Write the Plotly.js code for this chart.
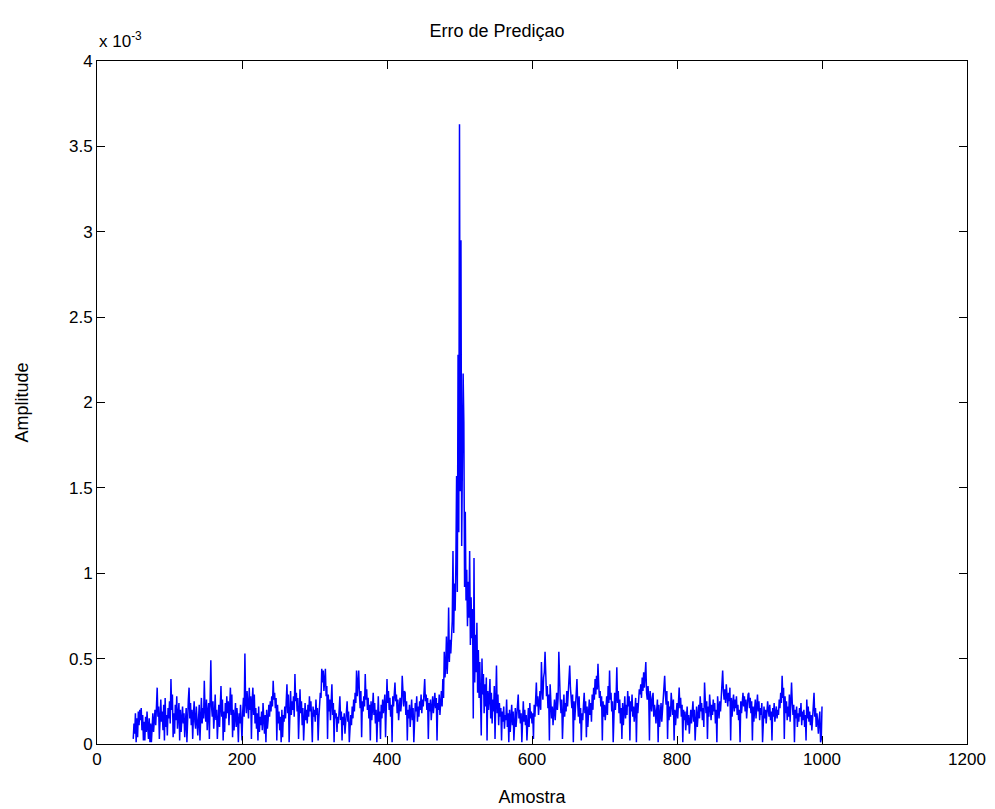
<!DOCTYPE html>
<html>
<head>
<meta charset="utf-8">
<script src="https://cdn.plot.ly/plotly-3.0.1.min.js"></script>
<style>html,body{margin:0;padding:0;background:#fff;}#chart{width:995px;height:809px;}</style>
</head>
<body>
<div id="chart"></div>
<script>
// Prediction error amplitude, in units of 1e-4, one value per sample
const firstSample = 50;
const errorE4 = [
0.3,1.2,0.6,1.8,0.1,1.5,0.4,1.9,1.1,2.0,
1.4,2.1,0.8,1.7,0.2,1.3,0.2,1.6,0.7,1.9,
1.0,0.3,1.5,0.1,1.2,0.1,0.9,1.8,0.7,1.4,
2.0,1.1,2.4,3.3,1.6,2.2,0.3,1.8,2.6,1.3,
1.9,0.8,2.3,0.2,2.7,1.0,1.7,0.5,2.1,1.5,
2.5,1.2,3.8,2.0,2.9,0.4,1.8,0.6,2.3,1.4,
2.8,0.9,1.6,2.4,0.2,2.0,0.7,1.5,2.2,1.2,
1.8,0.4,1.3,2.1,0.1,1.9,2.6,3.3,1.5,2.4,
1.1,2.0,0.3,1.7,2.5,1.3,0.9,2.2,1.6,0.5,
1.4,2.3,0.2,1.8,2.7,1.2,2.1,1.5,3.7,2.0,
1.3,2.6,0.8,1.9,2.4,0.3,2.8,4.9,2.2,1.6,
2.5,0.9,1.7,2.9,1.4,2.0,0.3,1.5,2.3,1.0,
2.1,3.4,1.6,2.6,0.2,1.9,0.7,2.4,1.5,2.8,
1.8,2.5,1.1,2.2,3.3,1.7,2.9,0.4,2.0,0.8,
1.6,2.4,1.0,2.1,1.4,0.1,1.8,1.2,2.3,1.5,
0.2,1.9,2.7,1.6,5.3,2.4,1.8,3.1,2.2,1.5,
3.3,2.0,2.8,0.3,2.5,3.3,1.7,2.9,1.2,2.1,
0.9,1.8,0.2,2.2,0.7,1.6,1.1,1.9,0.8,2.4,
1.5,0.6,1.7,0.1,2.0,0.9,1.4,2.3,1.6,2.5,
1.9,2.8,2.2,3.7,2.6,3.0,2.1,2.7,0.2,2.3,
1.2,1.9,0.8,1.6,0.1,2.0,0.4,1.7,1.3,2.2,
1.5,2.6,3.5,1.8,2.9,0.1,2.4,3.1,1.7,2.5,
2.0,2.8,1.6,4.1,2.5,3.0,1.9,2.7,0.3,2.2,
3.2,1.8,2.5,1.1,2.1,0.2,1.7,2.4,1.4,2.0,
1.2,2.3,1.6,2.8,1.9,2.5,1.5,0.1,2.2,1.6,
2.0,1.3,2.6,1.7,2.1,0.2,1.5,2.4,3.0,2.7,
4.4,3.6,4.3,3.1,3.9,4.4,2.8,3.4,0.3,2.9,
1.9,2.6,1.4,2.2,3.5,1.7,2.4,0.1,2.0,1.5,
1.8,0.7,1.6,1.2,2.1,2.8,1.4,1.9,0.2,1.6,
1.1,1.8,0.6,1.5,2.0,2.5,1.3,1.9,0.1,1.4,
1.7,1.1,2.2,1.5,2.6,1.9,3.0,2.4,4.3,2.8,
3.4,4.3,2.9,2.1,3.1,0.4,2.5,1.9,2.8,2.2,
4.1,2.6,3.2,2.0,2.7,1.5,2.3,0.2,2.5,1.4,
2.1,3.0,1.7,2.4,1.2,2.0,0.1,1.6,2.8,1.3,
1.9,0.3,2.3,1.5,2.6,1.8,2.2,2.9,0.4,2.5,
3.8,2.4,3.1,2.0,2.7,1.6,2.3,0.1,2.8,2.2,
3.0,3.6,2.5,2.9,1.8,2.6,1.4,2.1,2.7,1.9,
2.4,4.0,2.8,2.2,3.1,3.0,1.7,2.5,0.2,2.0,
1.5,2.3,1.0,1.8,2.6,1.4,2.1,0.1,1.7,2.4,
1.9,2.8,1.3,2.2,1.6,2.5,2.0,2.9,1.8,2.6,
2.2,3.0,3.8,2.5,2.9,2.0,2.7,0.3,2.4,1.9,
2.6,1.4,2.3,2.8,1.8,2.5,3.0,2.1,2.7,0.2,
2.4,2.0,2.9,1.7,2.6,3.1,2.2,3.8,2.7,5.4,
3.9,4.6,6.3,4.1,5.2,8.0,4.8,6.1,5.3,6.8,
7.2,11.3,6.5,9.4,7.8,10.6,15.7,8.9,22.8,12.4,
36.3,14.8,29.5,11.6,19.3,21.7,18.8,9.2,13.6,8.4,
10.2,6.9,9.5,7.4,11.3,5.8,8.6,6.2,7.9,1.5,
10.9,3.6,6.4,4.2,7.1,3.0,5.5,2.7,4.8,3.3,
0.5,5.0,2.9,4.1,1.8,3.5,2.2,3.9,0.2,3.1,
2.0,2.7,3.8,1.5,3.0,1.2,2.6,1.9,3.4,0.3,
2.3,4.6,1.8,2.9,1.1,2.4,1.6,2.1,0.2,1.9,
1.3,2.2,0.9,1.7,1.4,2.6,1.0,1.8,0.1,2.0,
0.7,1.5,2.3,1.1,1.9,0.2,1.4,2.1,1.0,1.6,
2.2,2.9,1.5,2.0,1.2,1.8,0.1,1.6,2.5,1.3,
2.0,1.1,1.7,0.2,1.4,2.1,1.0,2.4,1.5,1.9,
1.2,1.8,0.3,2.3,1.6,2.7,3.6,2.2,2.8,1.7,
2.5,3.1,2.0,4.8,3.3,2.6,3.9,4.2,5.4,3.5,
2.8,3.4,2.1,2.9,0.2,3.5,2.4,1.5,2.2,1.1,
1.9,2.6,1.4,2.3,3.0,2.0,2.7,5.4,3.2,2.5,
1.8,2.6,0.3,2.1,2.9,1.6,2.4,1.9,3.1,2.2,
2.8,3.6,4.6,3.3,2.7,2.1,2.9,0.1,2.5,1.4,
2.2,3.0,3.8,2.4,1.6,2.8,1.2,2.1,0.2,1.8,
1.4,2.3,3.0,1.8,2.5,0.4,2.2,1.0,1.9,2.6,
1.7,2.4,1.3,2.9,2.0,3.3,2.6,3.8,2.9,4.0,
3.2,4.7,3.5,2.7,3.1,2.2,2.8,0.2,2.5,1.6,
2.3,1.4,2.0,2.8,1.7,3.4,2.4,4.3,2.6,3.0,
1.9,2.5,0.1,2.2,3.0,2.0,2.7,4.5,2.4,3.1,
1.8,2.6,1.2,2.1,0.3,2.4,1.1,1.9,2.8,1.5,
2.3,1.7,3.1,2.2,2.8,0.2,2.5,1.9,2.9,1.6,
2.2,1.3,2.0,2.7,0.1,2.4,1.8,2.6,3.2,2.9,
3.5,2.7,3.9,3.1,4.2,3.3,3.8,4.8,3.0,2.6,
3.4,2.8,0.2,3.1,2.5,1.9,2.7,3.0,1.6,2.3,
1.9,1.2,2.0,2.6,0.1,2.3,1.0,1.8,2.4,1.3,
2.1,2.7,3.4,4.0,2.9,2.3,3.1,0.3,2.5,1.4,
2.2,1.6,3.0,2.4,1.7,2.6,0.2,2.0,1.1,1.8,
2.4,1.5,2.8,3.3,2.1,2.7,1.6,2.3,0.1,2.0,
1.4,1.9,0.8,1.6,2.2,1.1,1.7,0.6,1.5,2.0,
1.2,1.8,2.5,1.3,2.0,0.2,1.6,2.2,1.0,1.7,
2.3,1.5,2.8,1.9,2.4,1.4,2.1,1.0,3.6,2.6,
1.8,2.5,0.3,2.2,1.6,2.9,2.0,1.4,2.3,1.7,
2.6,1.9,2.4,1.2,2.0,0.1,2.8,2.2,1.5,2.5,
1.9,2.7,3.5,4.3,3.1,2.6,3.2,2.4,3.5,2.8,
2.2,3.0,2.5,3.3,0.2,2.7,1.6,2.4,2.9,1.9,
2.6,2.1,2.8,1.7,2.3,1.4,2.0,0.1,2.5,1.8,
2.4,3.0,2.2,2.8,1.9,2.6,1.5,2.3,2.9,3.0,
2.1,2.7,1.8,2.5,0.2,2.2,1.3,2.0,2.6,1.5,
2.3,2.9,1.9,2.5,1.4,2.1,1.7,2.4,0.1,1.8,
2.2,1.5,2.0,1.2,1.8,2.5,2.0,1.6,2.3,1.4,
1.9,0.2,2.1,1.6,2.4,1.3,1.8,2.2,1.5,2.0,
1.7,2.6,2.1,3.0,2.4,4.0,2.7,3.3,0.3,2.8,
1.8,2.5,1.4,2.2,1.6,2.9,1.3,2.1,3.6,2.4,
1.7,2.3,0.1,2.0,1.5,2.2,1.0,1.8,1.3,2.1,
1.6,2.4,1.1,1.9,1.4,2.0,1.0,1.7,0.2,2.6,
1.5,2.2,1.3,1.9,1.1,1.7,0.8,1.5,2.3,3.0,
1.6,2.1,1.0,1.8,1.3,0.6,1.4,1.9,0.1,0.3,
2.2
];
const sampleIdx = errorE4.map((v, i) => firstSample + i);
const amplitude = errorE4.map(v => v * 1e-4);

const xTickVals = [0, 200, 400, 600, 800, 1000, 1200];
const yTickVals = [0, 0.0005, 0.001, 0.0015, 0.002, 0.0025, 0.003, 0.0035, 0.004];
const yTickText = ['0', '0.5', '1', '1.5', '2', '2.5', '3', '3.5', '4'];

const font = 'Liberation Sans, Arial, Helvetica, sans-serif';

const trace = {
  x: sampleIdx, y: amplitude, type: 'scatter', mode: 'lines',
  line: {color: '#0000ff', width: 1.5},
  hoverinfo: 'skip'
};

const layout = {
  width: 995, height: 809,
  margin: {l: 97, r: 28, t: 61, b: 65, pad: 0},
  paper_bgcolor: '#ffffff', plot_bgcolor: '#ffffff',
  font: {family: font, size: 17, color: '#000'},
  showlegend: false,
  title: {text: 'Erro de Prediçao', font: {family: font, size: 18, color: '#000'},
          x: 0.4995, xref: 'container', xanchor: 'center', y: 0.962, yref: 'container', yanchor: 'middle'},
  xaxis: {
    range: [0, 1200], tickvals: xTickVals, ticks: 'inside', ticklen: 8, tickwidth: 1, tickcolor: '#000',
    showline: true, linecolor: '#000', linewidth: 1, mirror: 'ticks', showgrid: false, zeroline: false,
    tickfont: {family: font, size: 17, color: '#000'},
    title: {text: 'Amostra', font: {family: font, size: 18, color: '#000'}, standoff: 21}
  },
  yaxis: {
    range: [0, 0.004], tickvals: yTickVals, ticktext: yTickText, ticks: 'inside', ticklen: 8, tickwidth: 1, tickcolor: '#000',
    showline: true, linecolor: '#000', linewidth: 1, mirror: 'ticks', showgrid: false, zeroline: false,
    tickfont: {family: font, size: 17, color: '#000'},
    title: {text: 'Amplitude', font: {family: font, size: 18, color: '#000'}, standoff: 35}
  },
  annotations: [{
    text: 'x 10<sup>-3</sup>', xref: 'paper', yref: 'paper', x: 0, y: 1, xanchor: 'left', yanchor: 'bottom',
    yshift: 8, showarrow: false, font: {family: font, size: 17, color: '#000'}
  }]
};

Plotly.newPlot('chart', [trace], layout, {displayModeBar: false, staticPlot: true});
</script>
</body>
</html>
